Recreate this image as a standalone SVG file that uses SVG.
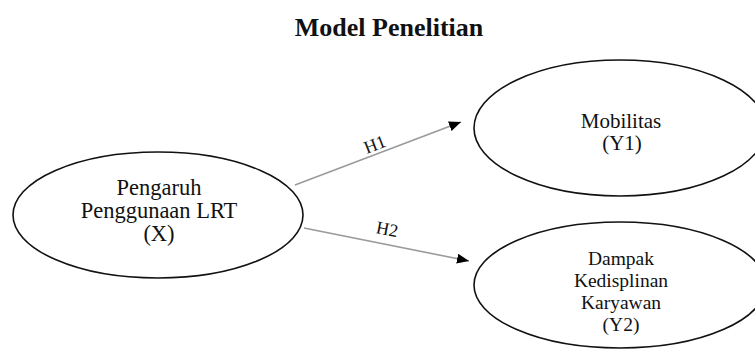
<svg xmlns="http://www.w3.org/2000/svg" width="755" height="351" viewBox="0 0 755 351">
<style>
.node ellipse{fill:#fff;stroke:#111;stroke-width:1.6}
.t{font-family:"Liberation Serif","Times New Roman",serif;fill:#111;text-anchor:middle}
.c line{stroke:#9a9a9a;stroke-width:1.6}
</style>
<defs>
<marker id="ah" viewBox="0 0 12 10" refX="12" refY="5" markerWidth="12" markerHeight="10" markerUnits="userSpaceOnUse" orient="auto">
<path d="M0,0 L12,5 L0,10 Z" fill="#000"/>
</marker>
</defs>
<rect width="755" height="351" fill="#fff"/>
<text class="t" x="389" y="36" font-size="26" font-weight="bold">Model Penelitian</text>
<g id="X" class="node">
<ellipse cx="158" cy="215" rx="145" ry="63"/>
<text class="t" font-size="22.5"><tspan x="159" y="195">Pengaruh</tspan><tspan x="159" y="218">Penggunaan LRT</tspan><tspan x="159" y="241">(X)</tspan></text>
</g>
<g id="Y1" class="node">
<ellipse cx="620" cy="128" rx="146" ry="68"/>
<text class="t" font-size="21"><tspan x="621" y="128">Mobilitas</tspan><tspan x="622" y="150">(Y1)</tspan></text>
</g>
<g id="Y2" class="node">
<ellipse cx="620" cy="285" rx="146" ry="63"/>
<text class="t" font-size="19.5"><tspan x="621" y="265">Dampak</tspan><tspan x="621" y="287">Kedisplinan</tspan><tspan x="621" y="309">Karyawan</tspan><tspan x="621" y="331">(Y2)</tspan></text>
</g>
<g id="connectors" class="c">
<line x1="295" y1="185" x2="461" y2="122" marker-end="url(#ah)"/>
<line x1="304" y1="228" x2="469" y2="261" marker-end="url(#ah)"/>
<text class="t" font-size="18" transform="translate(377,150) rotate(-21)">H1</text>
<text class="t" font-size="18" transform="translate(386,235) rotate(11)">H2</text>
</g>
</svg>
